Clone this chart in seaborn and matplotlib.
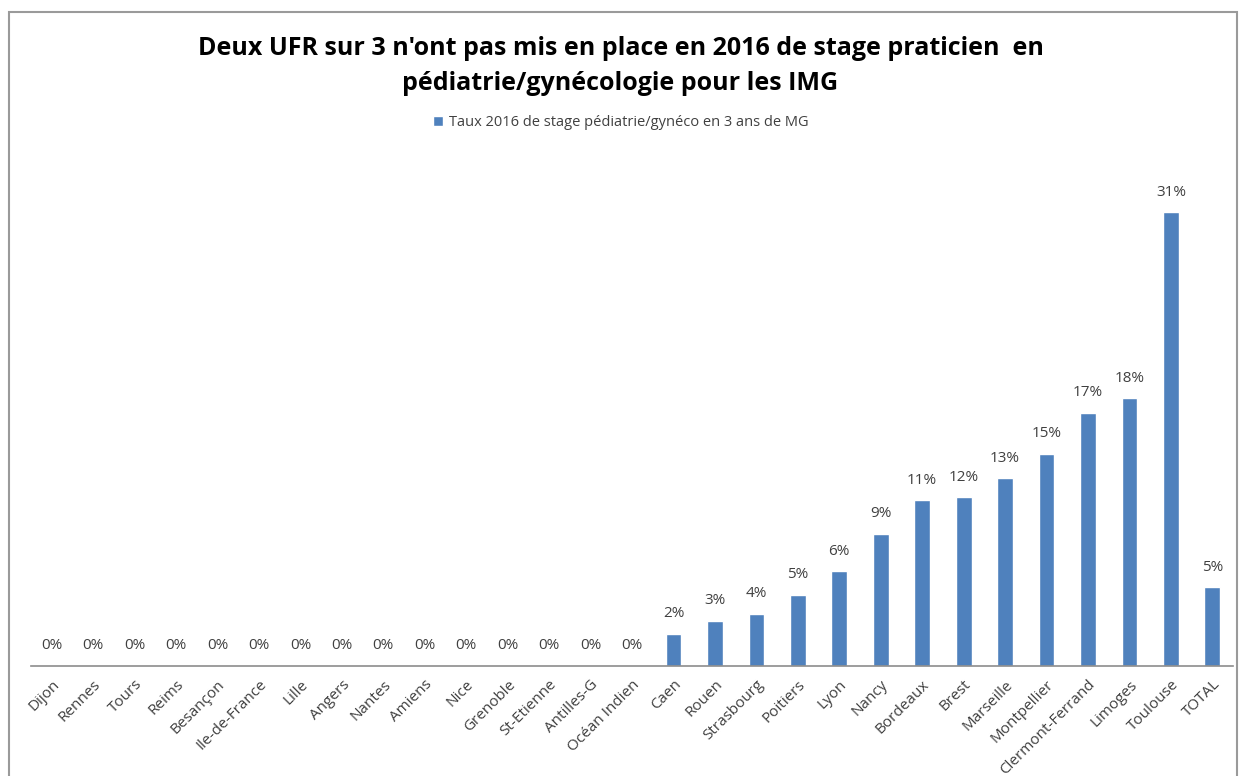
import matplotlib
matplotlib.use("Agg")
import matplotlib.pyplot as plt
import seaborn as sns
from matplotlib.patches import Rectangle

# data (share of stages, in %)
villes = ["Dijon", "Rennes", "Tours", "Reims", "Besançon", "Ile-de-France", "Lille",
          "Angers", "Nantes", "Amiens", "Nice", "Grenoble", "St-Etienne", "Antilles-G",
          "Océan Indien", "Caen", "Rouen", "Strasbourg", "Poitiers", "Lyon", "Nancy",
          "Bordeaux", "Brest", "Marseille", "Montpellier", "Clermont-Ferrand",
          "Limoges", "Toulouse", "TOTAL"]
taux = [0, 0, 0, 0, 0, 0, 0, 0, 0, 0, 0, 0, 0, 0, 0,
        2.2, 3.1, 3.6, 4.9, 6.5, 9.1, 11.4, 11.6, 12.9, 14.6, 17.4, 18.4, 31.2, 5.4]
serie = "Taux 2016 de stage pédiatrie/gynéco en 3 ans de MG"
titre = ("Deux UFR sur 3 n'ont pas mis en place en 2016 de stage praticien  en\n"
         "pédiatrie/gynécologie pour les IMG")

sns.set_style("white")
plt.rcParams['font.family'] = ['Open Sans', 'DejaVu Sans']

bleu = "#4F81BD"
gris = "#404040"

fig = plt.figure(figsize=(12.41, 7.76), dpi=100)
ax = fig.add_axes([0.025, 0.1418, 0.9686, 0.656])

sns.barplot(x=villes, y=taux, color=bleu, width=0.38, saturation=1,
            label=serie, ax=ax)
ax.bar_label(ax.containers[0], labels=[f"{v:.0f}%" for v in taux],
             padding=9, fontsize=11, color=gris)

ax.set_xlim(-0.5, len(villes) - 0.5)
ax.set_ylim(0, 35)
ax.set_yticks([])
ax.set_xlabel("")
ax.set_ylabel("")
for s in ["top", "right", "left"]:
    ax.spines[s].set_visible(False)
ax.spines["bottom"].set_color("#8c8c8c")
ax.spines["bottom"].set_linewidth(1.2)
ax.tick_params(axis="x", length=0, pad=8)
plt.setp(ax.get_xticklabels(), rotation=45, ha="right", rotation_mode="anchor",
         fontsize=11, color=gris)

ax.legend(loc="center", bbox_to_anchor=(0.5, 0.842), bbox_transform=fig.transFigure,
          frameon=False, fontsize=10.5, handlelength=0.7, handleheight=0.7,
          handletextpad=0.4)
for t in ax.get_legend().get_texts():
    t.set_color(gris)

fig.text(0.5, 0.915, titre, ha="center", va="center", fontsize=18,
         fontweight="bold", color="black", linespacing=1.5)

# chart area frame
fig.patches.append(Rectangle((0.007, -0.05), 0.99, 1.035, transform=fig.transFigure,
                             fill=False, edgecolor="#9a9a9a", linewidth=1.5))

fig.savefig("out.png", dpi=100)
